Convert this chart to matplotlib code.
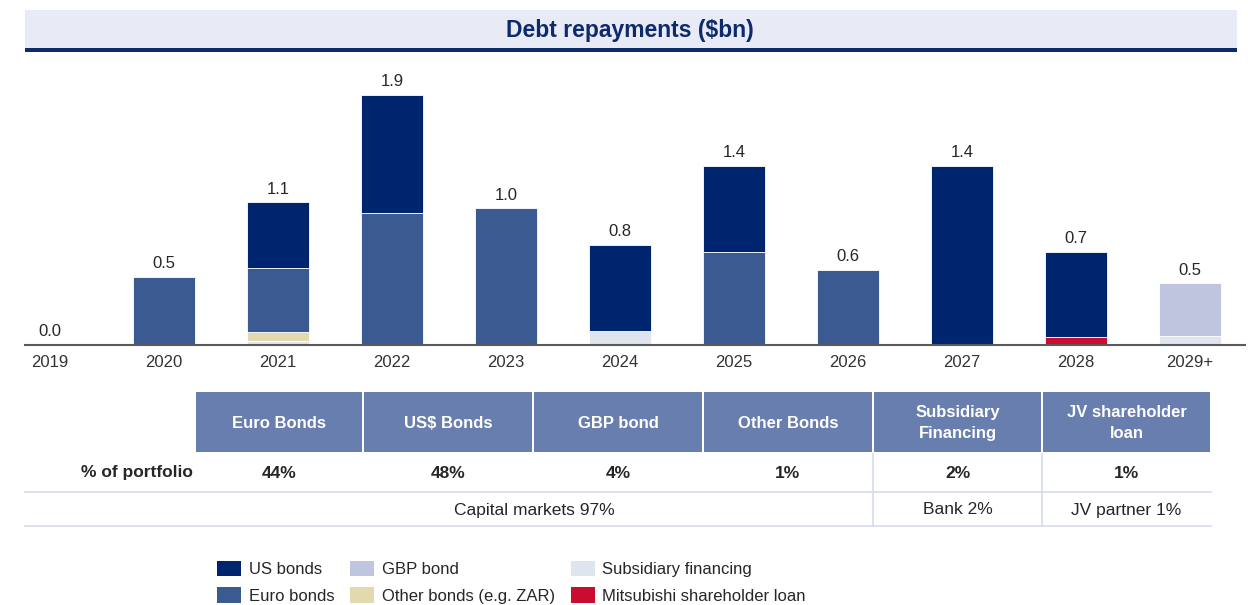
import matplotlib
matplotlib.use("Agg")
import matplotlib.pyplot as plt
from matplotlib.patches import Rectangle
import numpy as np

plt.rcParams['font.family'] = ['Liberation Sans', 'DejaVu Sans']

# ---- data ----
years = ['2019', '2020', '2021', '2022', '2023', '2024', '2025', '2026', '2027', '2028', '2029+']
subsidiary = [0, 0, 0.03, 0, 0, 0.11, 0, 0, 0, 0, 0.07]
mitsubishi = [0, 0, 0, 0, 0, 0, 0, 0, 0, 0.06, 0]
other_bonds = [0, 0, 0.065, 0, 0, 0, 0, 0, 0, 0, 0]
gbp_bond = [0, 0, 0, 0, 0, 0, 0, 0, 0, 0, 0.40]
euro_bonds = [0, 0.52, 0.49, 1.00, 1.04, 0, 0.71, 0.57, 0, 0, 0]
us_bonds = [0, 0, 0.50, 0.90, 0, 0.65, 0.65, 0, 1.36, 0.65, 0]

table_headers = ['Euro Bonds', 'US$ Bonds', 'GBP bond', 'Other Bonds',
                 'Subsidiary\nFinancing', 'JV shareholder\nloan']
portfolio_pct = ['44%', '48%', '4%', '1%', '2%', '1%']
group_labels = ['Capital markets 97%', 'Bank 2%', 'JV partner 1%']
group_spans = [(0, 4), (4, 5), (5, 6)]

# ---- colours ----
c_us = '#00256f'
c_euro = '#3b5a91'
c_gbp = '#c0c5df'
c_other = '#e4d9ae'
c_sub = '#dfe5ef'
c_mits = '#c90c30'
c_header = '#687eae'
c_line = '#d5dbea'
c_text = '#262626'

W, H = 1248, 605
fig = plt.figure(figsize=(W / 100, H / 100), dpi=100)

# overlay in pixel coordinates for title band, table and legend
ov = fig.add_axes([0, 0, 1, 1])
ov.set_xlim(0, W)
ov.set_ylim(H, 0)
ov.axis('off')

ov.add_patch(Rectangle((25, 10), 1212, 38, color='#e8ebf5', lw=0))
ov.add_patch(Rectangle((25, 48), 1212, 3.5, color='#0e2a6c', lw=0))
ov.text(630, 30, 'Debt repayments ($bn)', ha='center', va='center',
        fontsize=16.5, fontweight='bold', color='#0e2a6c')

# ---- bars ----
ax = fig.add_axes([25 / W, (H - 345) / H, 1220 / W, 285 / H])
ax.set_facecolor('none')
x = np.arange(len(years))
series = [(subsidiary, c_sub, 'Subsidiary financing'),
          (mitsubishi, c_mits, 'Mitsubishi shareholder loan'),
          (other_bonds, c_other, 'Other bonds (e.g. ZAR)'),
          (gbp_bond, c_gbp, 'GBP bond'),
          (euro_bonds, c_euro, 'Euro bonds'),
          (us_bonds, c_us, 'US bonds')]
bottom = np.zeros(len(years))
handles = {}
for vals, col, lab in series:
    vals = np.array(vals, dtype=float)
    lws = [0.6 if v > 0 else 0 for v in vals]
    bc = ax.bar(x, vals, 0.545, bottom=bottom, color=col, edgecolor='white',
                linewidth=lws, label=lab)
    handles[lab] = bc
    bottom += vals
totals = bottom
ax.bar_label(handles['US bonds'], labels=[f"{t:.1f}" for t in totals],
             padding=4, fontsize=12, color=c_text)

ax.set_xlim((25 - 50) / 114, (1245 - 50) / 114)
ax.set_ylim(0, 285 / 131.6)
ax.set_xticks(x, years)
ax.set_yticks([])
ax.tick_params(axis='x', length=0, pad=7, labelsize=12, labelcolor='#333333')
for s in ['left', 'right', 'top']:
    ax.spines[s].set_visible(False)
ax.spines['bottom'].set_color('#5a5a5a')
ax.spines['bottom'].set_linewidth(1.5)
ax.spines['bottom'].set_zorder(5)

# ---- table ----
edges = [195, 363, 533, 703, 873, 1042, 1211]
for i, head in enumerate(table_headers):
    x0, x1 = edges[i], edges[i + 1]
    ov.add_patch(Rectangle((x0 + 1, 392), x1 - x0 - 2, 60, color=c_header, lw=0))
    ov.text((x0 + x1) / 2, 423, head, ha='center', va='center', color='white',
            fontsize=12, fontweight='bold', linespacing=1.45)
    ov.text((x0 + x1) / 2, 473, portfolio_pct[i], ha='center', va='center',
            color=c_text, fontsize=12.5, fontweight='bold')
ov.text(193, 473, '% of portfolio', ha='right', va='center', color=c_text,
        fontsize=12.5, fontweight='bold')
ov.plot([25, 1211], [492, 492], color=c_line, lw=1.2)
ov.plot([25, 1211], [526, 526], color=c_line, lw=1.2)
for xv in [873, 1042]:
    ov.plot([xv, xv], [454, 526], color=c_line, lw=1.2)
for lab, (a, b) in zip(group_labels, group_spans):
    xc = (edges[a] + edges[b]) / 2
    ov.text(xc, 510, lab, ha='center', va='center', color=c_text, fontsize=12.5)

# ---- legend ----
order = ['US bonds', 'Euro bonds', 'GBP bond', 'Other bonds (e.g. ZAR)',
         'Subsidiary financing', 'Mitsubishi shareholder loan']
leg = fig.legend([handles[k] for k in order], order, ncol=3, frameon=False,
                 loc='upper left', bbox_to_anchor=(217 / W, (H - 561) / H),
                 fontsize=12, handlelength=1.45, handleheight=1.05,
                 handletextpad=0.45, columnspacing=0.95, labelspacing=0.6,
                 borderpad=0, borderaxespad=0)
for t in leg.get_texts():
    t.set_color(c_text)

fig.savefig('out.png', dpi=100)
